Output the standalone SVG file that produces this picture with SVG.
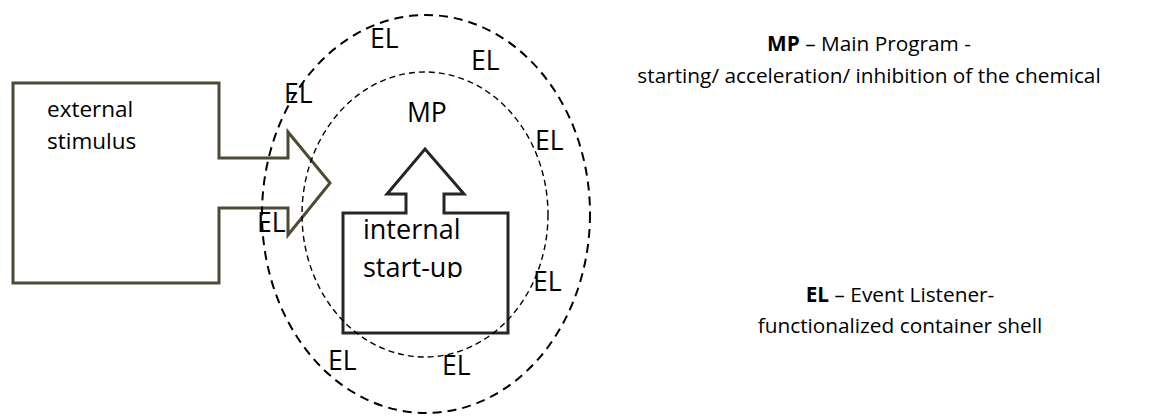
<svg xmlns="http://www.w3.org/2000/svg" width="1170" height="416" viewBox="0 0 1170 416">
<style>
text{font-family:"Open Sans","Liberation Sans",sans-serif;fill:#000}
.lbl{font-size:26.5px}
.ext{font-size:22.5px}
.int{font-size:27px}
.leg{font-size:20.8px;text-anchor:middle}
.b{font-weight:bold}
.outer{fill:none;stroke:#000;stroke-width:2;stroke-dasharray:9 6}
.inner{fill:none;stroke:#000;stroke-width:1.4;stroke-dasharray:6 4}
</style>
<defs>
<clipPath id="clipInt"><rect x="340" y="200" width="175" height="78"/></clipPath>
</defs>
<rect width="1170" height="416" fill="#fff"/>
<g id="external-stimulus">
<path d="M13,83 H219 V158 H288 V132 L330,183 L288,235 V208 H219 V283 H13 Z" fill="none" stroke="#4f4a35" stroke-width="3"/>
<text class="ext" x="47" y="117">external</text>
<text class="ext" x="47" y="149">stimulus</text>
</g>
<g id="internal-startup">
<path d="M343,213 H406 V194 H387 L425,149 L464,194 H444 V213 H508 V333 H343 Z" fill="none" stroke="#262626" stroke-width="3"/>
<g clip-path="url(#clipInt)">
<text class="int" x="363" y="239">internal</text>
<text class="int" x="363" y="277">start-up</text>
</g>
</g>
<g id="shells">
<ellipse class="outer" cx="426" cy="214" rx="164" ry="199"/>
<ellipse class="inner" cx="425" cy="214.5" rx="123" ry="142.5"/>
</g>
<g id="mp"><text class="lbl" x="407" y="122">MP</text></g>
<g id="el-labels">
<text class="lbl" x="370" y="48">EL</text>
<text class="lbl" x="471" y="70">EL</text>
<text class="lbl" x="284" y="103">EL</text>
<text class="lbl" x="535" y="150">EL</text>
<text class="lbl" x="257" y="232">EL</text>
<text class="lbl" x="533" y="291">EL</text>
<text class="lbl" x="328" y="370">EL</text>
<text class="lbl" x="442" y="375">EL</text>
</g>
<g id="legend">
<text class="leg" x="869" y="51"><tspan class="b">MP</tspan> – Main Program -</text>
<text class="leg" x="869" y="83">starting/ acceleration/ inhibition of the chemical</text>
<text class="leg" x="900" y="302"><tspan class="b">EL</tspan> – Event Listener-</text>
<text class="leg" x="900" y="333">functionalized container shell</text>
</g>
</svg>
